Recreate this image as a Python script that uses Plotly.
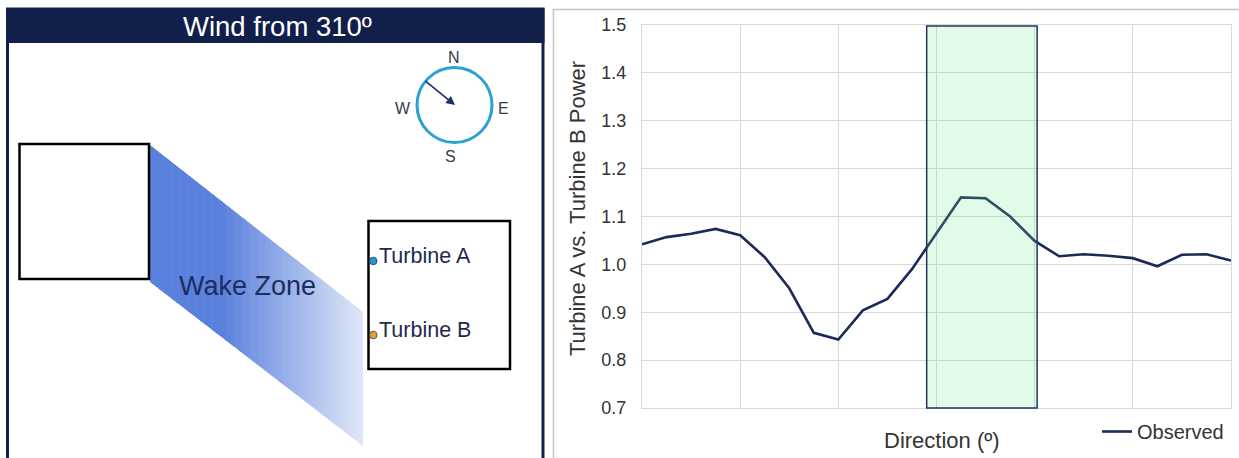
import plotly.graph_objects as go

# ---------------- data ----------------
directions = list(range(250, 375, 5))
observed = [1.042, 1.057, 1.064, 1.074, 1.061, 1.015, 0.950, 0.857, 0.843, 0.904,
            0.928, 0.990, 1.065, 1.140, 1.138, 1.100, 1.049, 1.017, 1.021, 1.018,
            1.013, 0.996, 1.020, 1.021, 1.008]
y_ticks = [0.7, 0.8, 0.9, 1.0, 1.1, 1.2, 1.3, 1.4, 1.5]
highlight_range = [308, 330.5]
series_name = "Observed"
title_text = "Wind from 310º"
y_title = "Turbine A vs. Turbine B Power"
x_title = "Direction (º)"

W, H = 1239, 458


def X(x):
    return x / W


def Y(y):
    return 1 - y / H


FONT = "Arial, Liberation Sans, sans-serif"
NAVY = "#121f4b"
LINE = "#1b2a57"

fig = go.Figure()
fig.add_trace(go.Scatter(x=directions, y=observed, mode="lines", name=series_name,
                         line=dict(color=LINE, width=2.6)))

shapes = []
annotations = []

# ---------- left panel ----------
shapes.append(dict(type="rect", xref="paper", yref="paper", x0=X(7.5), x1=X(543), y0=Y(9), y1=Y(470),
                   line=dict(color=NAVY, width=3), fillcolor="white", layer="below"))
shapes.append(dict(type="rect", xref="paper", yref="paper", x0=X(6), x1=X(544.5), y0=Y(8), y1=Y(43),
                   line=dict(width=0), fillcolor=NAVY, layer="below"))
annotations.append(dict(xref="paper", yref="paper", x=X(277), y=Y(27), text=title_text, showarrow=False,
                        font=dict(family=FONT, size=27.5, color="white"), xanchor="center", yanchor="middle"))

# wake zone gradient (parallelogram split into strips)
xL, xR = 150.0, 363.0
ytL, ytR = 145.0, 312.0
ybL, ybR = 282.0, 446.0
c0 = (90, 128, 221)
c1 = (224, 231, 248)
fade0, fade1 = 222.0, 363.0
N = 80


def yt(x):
    return ytL + (x - xL) * (ytR - ytL) / (xR - xL)


def yb(x):
    return ybL + (x - xL) * (ybR - ybL) / (xR - xL)


for i in range(N):
    xa = xL + (xR - xL) * i / N
    xb = min(xL + (xR - xL) * (i + 1) / N + (0.6 if i < N - 1 else 0), xR)
    xm = (xa + xb) / 2
    t = min(max((xm - fade0) / (fade1 - fade0), 0), 1)
    col = tuple(int(round(c0[k] + (c1[k] - c0[k]) * t)) for k in range(3))
    path = (f"M {X(xa)},{Y(yt(xa))} L {X(xb)},{Y(yt(xb))} "
            f"L {X(xb)},{Y(yb(xb))} L {X(xa)},{Y(yb(xa))} Z")
    shapes.append(dict(type="path", xref="paper", yref="paper", path=path,
                       fillcolor=f"rgb{col}", line=dict(width=0), layer="below"))

# boxes
shapes.append(dict(type="rect", xref="paper", yref="paper", x0=X(19.5), x1=X(149), y0=Y(144), y1=Y(279),
                   line=dict(color="black", width=2.5), fillcolor="white", layer="below"))
shapes.append(dict(type="rect", xref="paper", yref="paper", x0=X(368.5), x1=X(510), y0=Y(221), y1=Y(369),
                   line=dict(color="black", width=2.5), fillcolor="white", layer="below"))
annotations.append(dict(xref="paper", yref="paper", x=X(177), y=Y(286), text="Wake Zone", showarrow=False,
                        font=dict(family=FONT, size=27, color="#1d2d5c"), xanchor="left", yanchor="middle"))

# turbines
for yy, col, lab in [(261, "#1e9ad0", "Turbine A"), (335, "#e9a227", "Turbine B")]:
    shapes.append(dict(type="circle", xref="paper", yref="paper", x0=X(369.5), x1=X(377),
                       y0=Y(yy - 3.8), y1=Y(yy + 3.8), fillcolor=col,
                       line=dict(color="#2a3a5a", width=0.8)))
    annotations.append(dict(xref="paper", yref="paper", x=X(377), y=Y(yy - 5), text=lab, showarrow=False,
                            font=dict(family=FONT, size=21.5, color="#1f2a4f"), xanchor="left",
                            yanchor="middle"))

# compass
cx, cy, r = 454.5, 105.0, 37.5
shapes.append(dict(type="circle", xref="paper", yref="paper", x0=X(cx - r), x1=X(cx + r),
                   y0=Y(cy + r), y1=Y(cy - r), line=dict(color="#2aa2d2", width=3)))
for lab, lx, ly in [("N", 454, 58), ("S", 450, 156), ("W", 403, 108), ("E", 503, 108)]:
    annotations.append(dict(xref="paper", yref="paper", x=X(lx), y=Y(ly), text=lab, showarrow=False,
                            font=dict(family=FONT, size=16, color="#333a4a"), xanchor="center",
                            yanchor="middle"))
annotations.append(dict(xref="paper", yref="paper", x=X(455), y=Y(105), axref="pixel", ayref="pixel",
                        ax=-31, ay=-25, text="", showarrow=True, arrowhead=2, arrowsize=1.1,
                        arrowwidth=1.6, arrowcolor="#1d2f63", standoff=0))

# ---------- right panel ----------
shapes.append(dict(type="rect", xref="paper", yref="paper", x0=X(553.5), x1=X(1260), y0=Y(9.5), y1=Y(470),
                   line=dict(color="#c4c4c4", width=1.5), fillcolor="white", layer="below"))
shapes.append(dict(type="rect", xref="x", yref="paper", x0=highlight_range[0], x1=highlight_range[1],
                   y0=Y(408), y1=Y(26), fillcolor="rgba(110,235,145,0.2)",
                   line=dict(color="#1f3560", width=1.5), layer="above"))

annotations.append(dict(xref="paper", yref="paper", x=X(577), y=Y(209), text=y_title, showarrow=False,
                        textangle=-90, font=dict(family=FONT, size=22, color="#333333"),
                        xanchor="center", yanchor="middle"))
annotations.append(dict(xref="paper", yref="paper", x=X(942), y=Y(440), text=x_title, showarrow=False,
                        font=dict(family=FONT, size=22, color="#333333"),
                        xanchor="center", yanchor="middle"))

fig.update_layout(
    width=W, height=H, autosize=False,
    margin=dict(l=0, r=0, t=0, b=0, pad=0, autoexpand=False),
    paper_bgcolor="white", plot_bgcolor="rgba(0,0,0,0)",
    shapes=shapes, annotations=annotations,
    showlegend=True,
    legend=dict(x=X(1097), y=Y(412), xanchor="left", yanchor="top", bgcolor="rgba(0,0,0,0)",
                font=dict(family=FONT, size=20, color="#333333"), itemwidth=30),
    xaxis=dict(domain=[X(642), X(1231)], range=[250, 370], tick0=250, dtick=20, automargin=False,
               showticklabels=False, ticks="", showgrid=True, gridcolor="#d9d9d9", gridwidth=1,
               showline=True, linecolor="#d9d9d9", linewidth=1, mirror=True, zeroline=False),
    yaxis=dict(domain=[Y(408), Y(25)], range=[0.7, 1.5], tickvals=y_ticks, tickformat=".1f",
               automargin=False,
               ticks="", showgrid=True, gridcolor="#d9d9d9", gridwidth=1,
               showline=True, linecolor="#d9d9d9", linewidth=1, mirror=True, zeroline=False,
               tickfont=dict(family=FONT, size=18, color="#333333"), ticklabelstandoff=11),
)

post = ("document.documentElement.style.margin='0';document.body.style.margin='0';"
        "document.body.style.overflow='hidden';")
fig.write_html("out.html", config={"responsive": False, "displayModeBar": False}, post_script=post)
